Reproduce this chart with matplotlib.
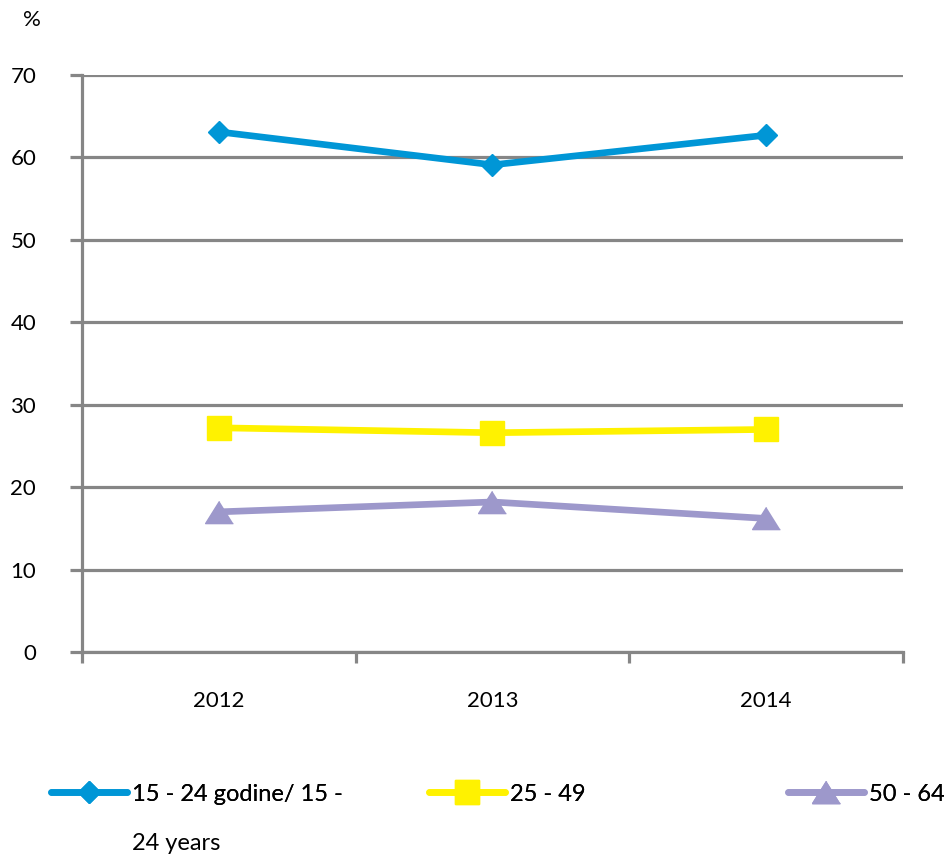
import numpy as np
import matplotlib
matplotlib.use("Agg")
import matplotlib.pyplot as plt

plt.rcParams['font.family'] = ['Lato', 'DejaVu Sans']

# data
years = ['2012', '2013', '2014']
youth = [63.1, 59.1, 62.7]      # 15 - 24
middle = [27.2, 26.6, 27.0]     # 25 - 49
older = [17.0, 18.2, 16.2]      # 50 - 64
y_ticks = [0, 10, 20, 30, 40, 50, 60, 70]

grid_col = '#868686'
tri = [(0, 0.8), (-1, -0.8), (1, -0.8)]

fig = plt.figure(figsize=(9.44, 8.55), dpi=100)
ax = fig.add_axes([82/944, 1 - 652/855, (903-82)/944, (652-75)/855])

x = np.arange(len(years))
l1, = ax.plot(x, youth, color='#0096D6', lw=4.8, marker='D', ms=11.5,
              solid_capstyle='round', label='15 - 24 godine/ 15 -')
l2, = ax.plot(x, middle, color='#FFF200', lw=4.8, marker='s', ms=17.5,
              solid_capstyle='round', label='25 - 49')
l3, = ax.plot(x, older, color='#9D98CB', lw=4.8, marker=tri, ms=20,
              solid_capstyle='round', label='50 - 64')

ax.set_xlim(-0.5, len(years) - 0.5)
ax.set_ylim(0, 70)
ax.set_yticks(y_ticks)
ax.yaxis.grid(True, color=grid_col, lw=2.3)
ax.set_axisbelow(True)

ax.set_xticks(x)
ax.set_xticklabels(years)
ax.set_xticks(np.arange(-0.5, len(years)), minor=True)

for s in ['top', 'right']:
    ax.spines[s].set_visible(False)
for s in ['left', 'bottom']:
    ax.spines[s].set_color(grid_col)
    ax.spines[s].set_linewidth(2.3)

ax.tick_params(axis='y', direction='out', length=9, width=2.3, color=grid_col,
               pad=24, labelsize=16)
ax.tick_params(axis='x', which='major', length=0, pad=28, labelsize=16)
ax.tick_params(axis='x', which='minor', direction='out', length=8, width=2.3,
               color=grid_col)

fig.text(32/944, 1 - 20/855, '%', ha='center', va='center', fontsize=16)

# legend, one entry per block as in the reference
leg_pos = [(51, l1), (429, l2), (788, l3)]
for px, h in leg_pos:
    lg = fig.legend(handles=[h], loc='center left',
                    bbox_to_anchor=(px/944, 1 - 794/855),
                    frameon=False, fontsize=17, handlelength=3.2,
                    handletextpad=0.25, borderpad=0, borderaxespad=0)
    fig.add_artist(lg)
fig.text(132/944, 1 - 843/855, '24 years', ha='left', va='center', fontsize=17)

fig.savefig('out.png', dpi=100)
